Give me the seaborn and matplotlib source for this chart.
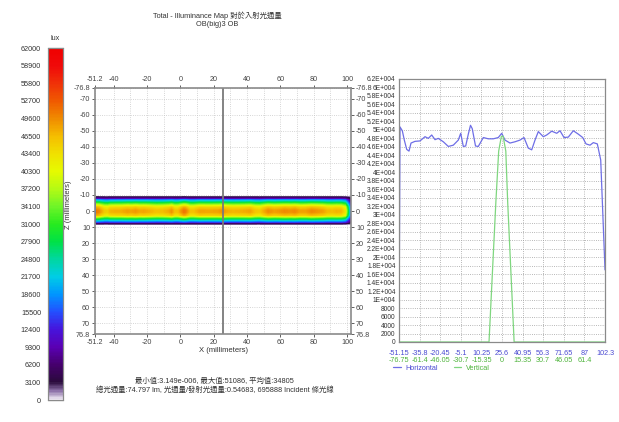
import numpy as np
import pandas as pd
import matplotlib
matplotlib.use("Agg")
import matplotlib.pyplot as plt
import seaborn as sns
from matplotlib.colors import LinearSegmentedColormap
from matplotlib.lines import Line2D

sns.set_style("white")
plt.rcParams['font.family'] = ['Liberation Sans', 'Noto Sans CJK TC', 'DejaVu Sans']

# ---------------- data ----------------
title_line1 = "Total - Illuminance Map 對於入射光通量"
title_line2 = "OB(big)3 OB"
stats_line1 = "最小值:3.149e-006, 最大值:51086, 平均值:34805"
stats_line2 = "總光通量:74.797 lm, 光通量/發射光通量:0.54683, 695888 Incident 條光線"

# horizontal profile (x in mm, lux)
h_x = [-51.15, -50.41, -48.69, -47.2, -45.41, -43.70, -42.21, -39.23, -35.51, -31.78,
       -29.33, -26.79, -24.33, -21.88, -18.15, -14.43, -10.70, -6.98, -5.19, -3.25,
       -1.47, 0.47, 2.1, 3.4, 5.84, 7.92, 11.65, 15.37, 19.09, 22.82,
       25.35, 27.81, 31.53, 35.26, 38.98, 41.96, 45.17, 47.70, 50.16, 52.62,
       56.34, 58.87, 62.60, 66.32, 68.78, 71.76, 74.96, 78.69, 82.41, 85.69,
       88.15, 91.13, 93.59, 96.57, 99.10, 102.3]
h_val = [0, 50700, 49800, 47600, 45400, 45000, 46900, 47300, 47400, 48400,
         48000, 48800, 47700, 48000, 47200, 46100, 46400, 47600, 49200, 46100,
         46200, 49000, 51086, 50300, 46200, 46100, 48200, 47900, 47900, 48200,
         49200, 47600, 46900, 47200, 47600, 48200, 45700, 45300, 47600, 49600,
         48400, 48800, 49700, 49200, 49800, 48200, 48300, 49800, 49000, 48200,
         46700, 46400, 47000, 46700, 42900, 17000]

# vertical profile (z in mm, lux)
v_z = [-76.75, -9.7, -4.6, -2.5, -0.5, 0.8, 2.8, 4.2, 9.0, 76.75]
v_val = [0, 0, 33000, 45000, 48500, 48500, 45000, 33000, 0, 0]

cbar_ticks = [0, 3100, 6200, 9300, 12400, 15500, 18600, 21700, 24800, 27900, 31000,
              34100, 37200, 40300, 43400, 46500, 49600, 52700, 55800, 58900, 62000]
cmap_stops = [0, 1500, 3100, 6200, 9300, 12400, 15500, 18600, 21700, 24800, 27900,
              31000, 34100, 37200, 40300, 43400, 46500, 49600, 52700, 55800, 58900, 62000]
cmap_colors = ["#f2ecf6", "#8c70a8", "#2a0a3c", "#46006e", "#5a00b4", "#4614dc",
               "#2350ff", "#0096ff", "#00cde6", "#00d7a0", "#00e146", "#28eb1e",
               "#6ef528", "#b4fa14", "#e6fa00", "#f0e100", "#f5be00", "#f08c00",
               "#f05a00", "#f03208", "#f00a0a", "#f00000"]

map_xticks = [-51.2, -40, -20, 0, 20, 40, 60, 80, 100]
map_xminor = [-30, -10, 10, 30, 50, 70, 90]
map_zticks = [-76.8, -70, -60, -50, -40, -30, -20, -10, 0, 10, 20, 30, 40, 50, 60, 70, 76.8]

prof_xticks_h = [-51.15, -35.8, -20.45, -5.1, 10.25, 25.6, 40.95, 56.3, 71.65, 87, 102.3]
prof_xticks_v = [-76.75, -61.4, -46.05, -30.7, -15.35, 0, 15.35, 30.7, 46.05, 61.4, 76.75]
prof_yticks = list(range(0, 62001, 2000))

# ---------------- figure ----------------
fig = plt.figure(figsize=(6.19, 4.22), dpi=100)
fig.patch.set_facecolor("white")

cax = fig.add_axes([0.0775, 0.052, 0.024, 0.834])
ax = fig.add_axes([0.1535, 0.2085, 0.4136, 0.583])
ax2 = fig.add_axes([0.6446, 0.1896, 0.3328, 0.6232])

cmap = LinearSegmentedColormap.from_list(
    "illum", [(s / 62000.0, c) for s, c in zip(cmap_stops, cmap_colors)])

# heat map field from the two profiles
cell = 0.6
nx = nz = 256
xc = -51.2 + cell * (np.arange(nx) + 0.5)
zc = -76.8 + cell * (np.arange(nz) + 0.5)
hrow = np.interp(xc, h_x, h_val)
vcol = np.interp(zc, v_z, v_val) / max(v_val)
field = np.outer(vcol, hrow)
field[field < 400] = np.nan
df = pd.DataFrame(field)

sns.heatmap(df, ax=ax, cmap=cmap, vmin=0, vmax=62000, cbar_ax=cax,
            xticklabels=False, yticklabels=False, rasterized=True)
ax.collections[0].set_zorder(2)

tick_col = "#454545"
ax.set_xticks([(v + 51.2) / cell for v in map_xticks])
ax.set_xticklabels([f"{v:g}" for v in map_xticks])
ax.set_xticks([(v + 51.2) / cell for v in map_xminor], minor=True)
ax.set_yticks([(v + 76.8) / cell for v in map_zticks])
ax.set_yticklabels([f"{v:g}" for v in map_zticks], rotation=0)
ax.tick_params(axis="both", which="major", labelsize=5.2, colors=tick_col,
               length=2, width=0.6, pad=1.5,
               top=True, labeltop=True, bottom=True, labelbottom=True,
               left=True, labelleft=True, right=True, labelright=True)
ax.tick_params(axis="x", which="minor", length=0)
ax.set_xlim(0, nx)
ax.set_ylim(nz, 0)
ax.grid(True, which="both", color="#c8c8c8", linestyle=":", linewidth=0.6)
ax.axvline((25.6 + 51.2) / cell, color="#7a7a7a", lw=1.3, zorder=3)
for s in ax.spines.values():
    s.set_visible(True)
    s.set_color("#8a8a8a")
    s.set_linewidth(1.2)
    s.set_zorder(4)
ax.set_xlabel("X (millimeters)", fontsize=5.5, color="#333333", labelpad=1)
ax.set_ylabel("")
fig.text(0.111, 0.514, "Z (millimeters)", rotation=90, fontsize=5.5,
         color="#333333", ha="center", va="center")

# colorbar
cax.yaxis.set_ticks(cbar_ticks)
cax.yaxis.set_ticklabels([str(v) for v in cbar_ticks])
cax.yaxis.set_ticks_position("left")
cax.yaxis.set_label_position("left")
cax.tick_params(axis="y", direction="in", length=11, width=0.8, color="#222222",
                labelsize=5.2, labelcolor="#333333", pad=5, right=False)
for s in cax.spines.values():
    s.set_visible(True)
    s.set_color("#8a8a8a")
    s.set_linewidth(0.8)
fig.text(0.089, 0.908, "lux", fontsize=5.2, color="#333333", ha="center", va="center")

# titles and stats
fig.text(0.351, 0.962, title_line1, fontsize=5.3, color="#333333", ha="center", va="center")
fig.text(0.351, 0.942, title_line2, fontsize=5.3, color="#333333", ha="center", va="center")
fig.text(0.347, 0.097, stats_line1, fontsize=5.3, color="#333333", ha="center", va="center")
fig.text(0.347, 0.076, stats_line2, fontsize=5.3, color="#333333", ha="center", va="center")

# profile plot
blue = "#6e6ee6"
green = "#7fd67f"
sns.lineplot(x=h_x, y=h_val, ax=ax2, color=blue, lw=0.9, sort=False)
sns.lineplot(x=np.array(v_z) + 25.6, y=v_val, ax=ax2, color=green, lw=0.9, sort=False)
ax2.set_xlim(-51.15, 102.3)
ax2.set_ylim(0, 62000)


def ylab(v):
    if v < 10000:
        return str(v)
    return f"{v / 10000:g}E+004"


ax2.set_yticks(prof_yticks)
ax2.set_yticklabels([ylab(v) for v in prof_yticks])
ax2.set_xticks(prof_xticks_h)
ax2.set_xticklabels([f"{v:g}" for v in prof_xticks_h])
ax2.tick_params(axis="y", labelsize=4.8, colors="#333333", length=1.5, width=0.5, pad=1)
ax2.tick_params(axis="x", labelsize=5.2, labelcolor="#4a4ad2", length=0, pad=6)
ax2.grid(True, color="#a0a0a0", linestyle=":", linewidth=0.6)
for s in ax2.spines.values():
    s.set_visible(True)
    s.set_color("#8a8a8a")
    s.set_linewidth(0.9)

sec = ax2.secondary_xaxis(-0.024, functions=(lambda x: x - 25.6, lambda x: x + 25.6))
sec.set_xticks(prof_xticks_v)
sec.set_xticklabels([f"{v:g}" for v in prof_xticks_v])
sec.tick_params(axis="x", labelsize=5.2, labelcolor="#4fb43c", length=0, pad=6)
sec.spines["bottom"].set_visible(False)

handles = [Line2D([0], [0], color=blue, lw=0.9), Line2D([0], [0], color=green, lw=0.9)]
leg = fig.legend(handles, ["Horizontal", "Vertical"], loc="center left",
                 bbox_to_anchor=(0.625, 1 - 368 / 422), frameon=False, ncol=2,
                 fontsize=5.2, handlelength=1.0, columnspacing=2.2, handletextpad=0.7)
leg.get_texts()[0].set_color("#4a4ad2")
leg.get_texts()[1].set_color("#4fb43c")

fig.savefig("out.png", dpi=100, facecolor="white")
